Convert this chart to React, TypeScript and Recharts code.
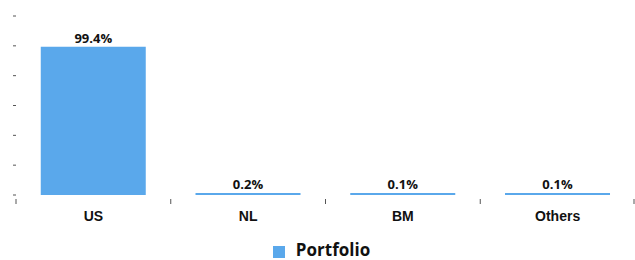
import { Bar, BarChart, LabelList, Legend, XAxis, YAxis } from "recharts"

const countries = ["US", "NL", "BM", "Others"]
const portfolio = [99.4, 0.2, 0.1, 0.1]
const yTicks = [0, 20, 40, 60, 80, 100, 120]

const data = countries.map((country, i) => ({ country, portfolio: portfolio[i] }))

const CHART_W = 635
const Y_AXIS_W = 16
const HALF_STEP = (CHART_W - Y_AXIS_W) / countries.length / 2

function CountryTick(props: any) {
  const { x, y, payload, index } = props
  const left = x - HALF_STEP
  return (
    <g>
      <line stroke="#555" x1={left} x2={left} y1={y + 4} y2={y + 9} />
      {index === countries.length - 1 && (
        <line stroke="#555" x1={x + HALF_STEP - 1} x2={x + HALF_STEP - 1} y1={y + 4} y2={y + 9} />
      )}
      <text
        fill="#111"
        fontFamily="'Liberation Sans', Arial, sans-serif"
        fontSize={14}
        fontWeight="bold"
        textAnchor="middle"
        x={x}
        y={y + 26}
      >
        {payload.value}
      </text>
    </g>
  )
}

export default function App() {
  document.body.style.margin = "0"
  return (
    <BarChart
      barCategoryGap="16%"
      data={data}
      height={260}
      margin={{ top: 16, right: 0, bottom: 0, left: 0 }}
      width={CHART_W}
    >
      <XAxis
        axisLine={false}
        dataKey="country"
        height={46}
        interval={0}
        tick={<CountryTick />}
        tickLine={false}
        tickMargin={0}
        tickSize={0}
      />
      <YAxis
        axisLine={false}
        domain={[0, 120]}
        tickFormatter={() => ""}
        tickLine={{ stroke: "#555" }}
        tickSize={3}
        ticks={yTicks}
        width={Y_AXIS_W}
      />
      <Legend
        formatter={(value) => (
          <span
            style={{
              color: "#111",
              fontFamily: "'Open Sans', sans-serif",
              fontSize: 17,
              fontWeight: "bold",
              marginLeft: 7,
            }}
          >
            {value}
          </span>
        )}
        iconSize={12}
        iconType="square"
        wrapperStyle={{ paddingLeft: 9, bottom: 0, lineHeight: "18px" }}
      />
      <Bar dataKey="portfolio" fill="#5aa8eb" isAnimationActive={false} minPointSize={2} name="Portfolio">
        <LabelList
          dataKey="portfolio"
          fill="#111"
          fontFamily="'Open Sans', sans-serif"
          fontSize={13}
          fontWeight="bold"
          formatter={(v: any) => `${v}%`}
          offset={4}
          position="top"
        />
      </Bar>
    </BarChart>
  )
}
